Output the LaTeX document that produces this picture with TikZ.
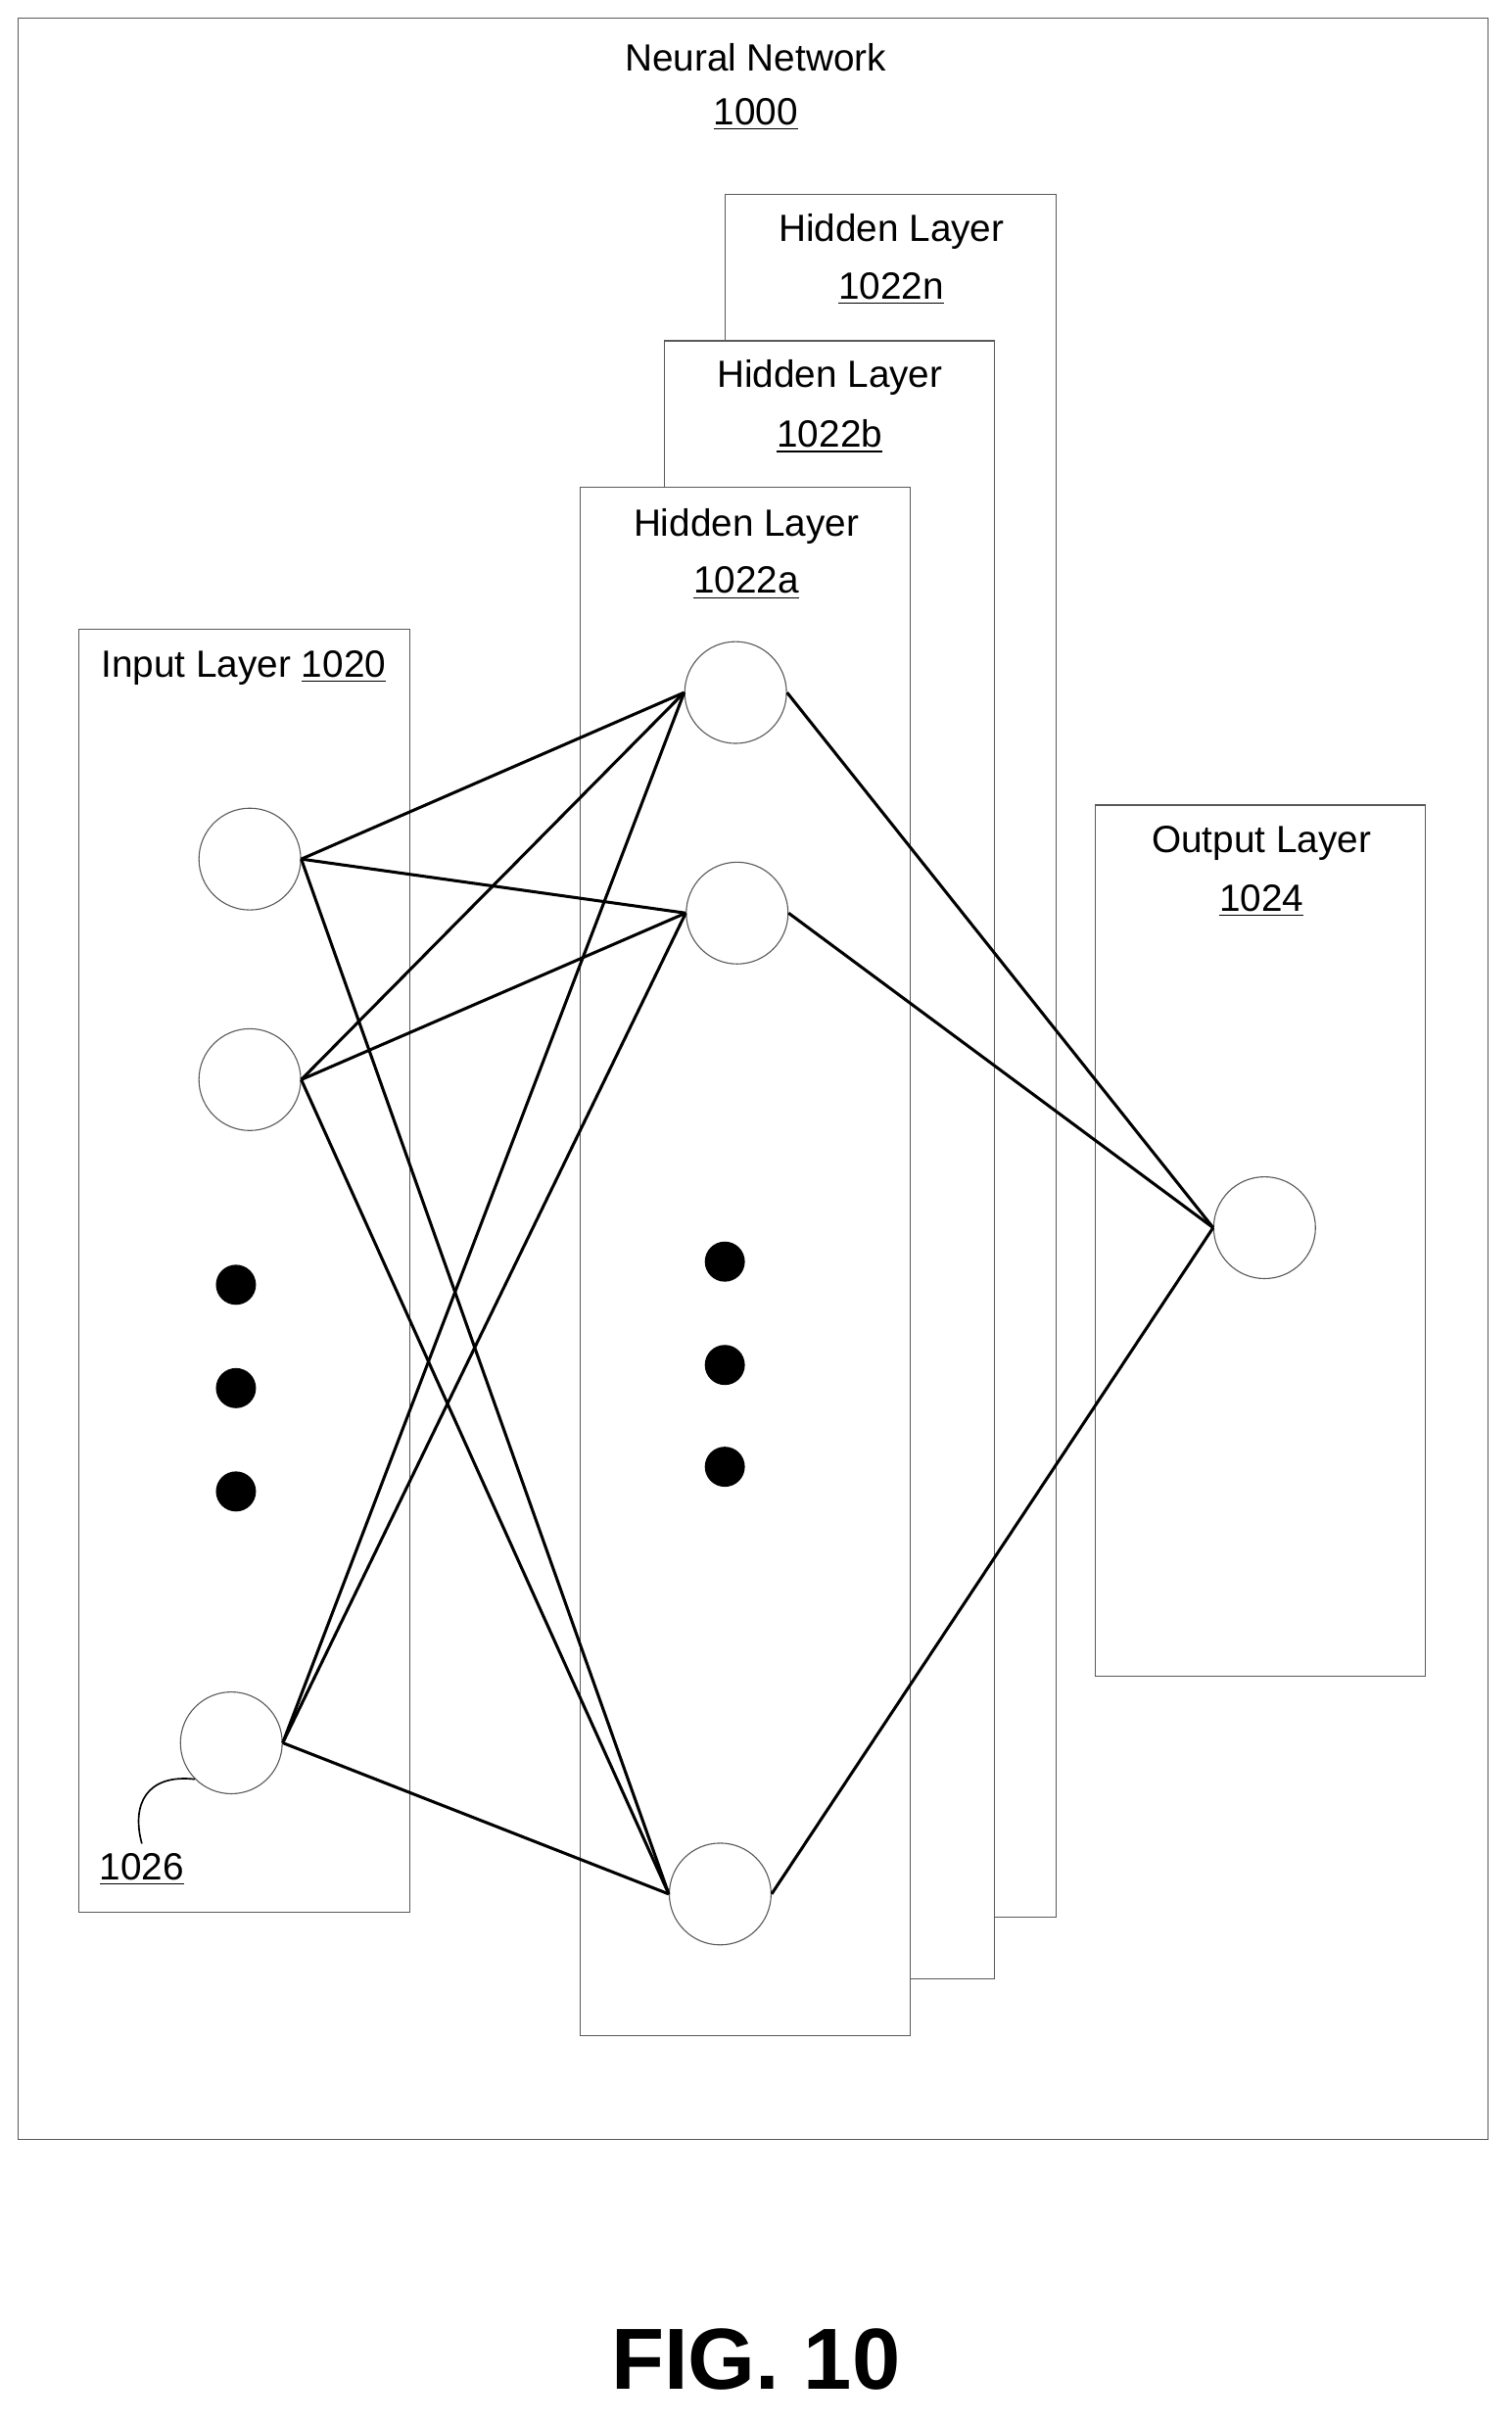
\documentclass[tikz,border=0pt]{standalone}
\usepackage{fontspec}
\setmainfont{Liberation Sans}
\usepackage{tikz}

\begin{document}
\begin{tikzpicture}[x=0.02cm,y=-0.02cm,
  layer/.style={draw,gray!70!black,fill=white},
  unit/.style={circle,draw,gray!70!black,minimum size=1.32cm,inner sep=0pt},
  dot/.style={circle,fill=black,minimum size=0.52cm,inner sep=0pt},
  lbl/.style={font=\fontsize{14}{17}\selectfont,align=center},
  link/.style={line width=1.1pt}]
\useasboundingbox (0,0) rectangle (980,1571);
\draw[gray!70!black] (12,12) rectangle (965,1387);
\node[lbl] (title) at (490,37) {Neural Network};
\node[lbl] (titlenum) at (490,74) {\underline{1000}};
% hidden layers, back to front
\draw[layer] (470,126) rectangle (685,1243);
\node[lbl] at (578,150) {Hidden Layer};
\node[lbl] at (578,187) {\underline{1022n}};
\draw[layer] (431,221) rectangle (645,1283);
\node[lbl] at (538,245) {Hidden Layer};
\node[lbl] at (538,283) {\underline{1022b}};
\draw[layer] (376,316) rectangle (590,1320);
\node[lbl] at (484,341) {Hidden Layer};
\node[lbl] at (484,378) {\underline{1022a}};
% input and output layers
\draw[layer,fill=none] (51,408) rectangle (266,1240);
\node[lbl] at (158,433) {Input Layer \underline{1020}};
\draw[layer] (710,522) rectangle (924,1087);
\node[lbl] at (818,547) {Output Layer};
\node[lbl] at (818,584) {\underline{1024}};
% units
\node[unit] (i1) at (162,557) {};
\node[unit] (i2) at (162,700) {};
\node[unit] (in) at (150,1130) {};
\node[unit] (h1) at (477,449) {};
\node[unit] (h2) at (478,592) {};
\node[unit] (hn) at (467,1228) {};
\node[unit] (o1) at (820,796) {};
\foreach \y in {833,900,967} \node[dot] at (153,\y) {};
\foreach \y in {818,885,951} \node[dot] at (470,\y) {};
% connections
\foreach \s in {i1,i2,in}
  \foreach \t in {h1,h2,hn}
    \draw[link] (\s.east) -- (\t.west);
\foreach \s in {h1,h2,hn}
  \draw[link] (\s.east) -- (o1.west);
\node[lbl] (ref) at (92,1212) {\underline{1026}};
\draw[semithick] (in.south west) .. controls (95,1150) and (85,1170) .. (ref.north);
\node[font=\bfseries\fontsize{32}{38}\selectfont] (fig) at (490,1530) {FIG. 10};
\end{tikzpicture}
\end{document}
